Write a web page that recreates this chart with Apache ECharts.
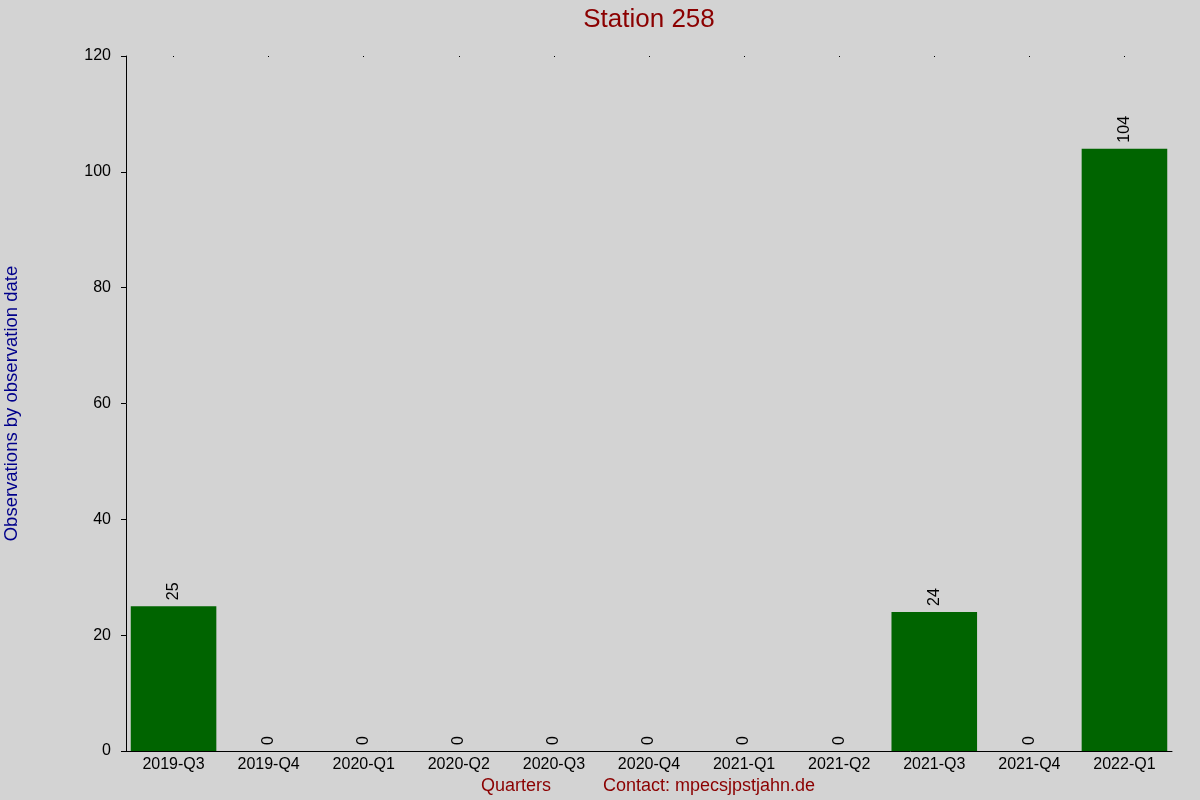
<!DOCTYPE html>
<html>
<head>
<meta charset="utf-8">
<script src="https://cdn.jsdelivr.net/npm/echarts@6/dist/echarts.min.js"></script>
<style>
  html, body { margin: 0; padding: 0; background: #d3d3d3; }
  #chart { width: 1200px; height: 800px; }
</style>
</head>
<body>
<div id="chart"></div>
<script>
// quarters and counts
const quarters = ['2019-Q3', '2019-Q4', '2020-Q1', '2020-Q2', '2020-Q3', '2020-Q4',
                  '2021-Q1', '2021-Q2', '2021-Q3', '2021-Q4', '2022-Q1'];
const counts = [25, 0, 0, 0, 0, 0, 0, 0, 24, 0, 104];
const yTicks = { min: 0, max: 120, interval: 20 };

const font = '"Liberation Sans", Arial, sans-serif';
const chart = echarts.init(document.getElementById('chart'));

const option = {
    backgroundColor: '#d3d3d3',
    animation: false,
    title: {
        text: 'Station 258',
        left: 644,
        textAlign: 'center',
        top: 2,
        textStyle: { color: '#8b0000', fontSize: 26, fontWeight: 'normal', fontFamily: font }
    },
    grid: { left: 126, right: 28, top: 56, bottom: 49, outerBoundsMode: 'none', containLabel: false },
    xAxis: [{
        type: 'category',
        data: quarters,
        axisLine: { lineStyle: { color: '#000', width: 1 } },
        axisTick: { show: false },
        axisLabel: { color: '#000', fontSize: 16, fontFamily: font, margin: 6, interval: 0 }
    }, {
        // tiny dots along the top edge
        type: 'category',
        data: quarters,
        position: 'top',
        axisLine: { show: false },
        axisTick: { show: true, alignWithLabel: true, length: 1, inside: true, lineStyle: { color: '#000' } },
        axisLabel: { show: false }
    }],
    yAxis: {
        type: 'value',
        min: yTicks.min,
        max: yTicks.max,
        interval: yTicks.interval,
        name: 'Observations by observation date',
        nameLocation: 'middle',
        nameGap: 105,
        nameTextStyle: { color: '#00008b', fontSize: 18.5, fontFamily: font },
        axisLine: { show: true, lineStyle: { color: '#000', width: 1 } },
        axisTick: { show: true, length: 5, lineStyle: { color: '#000' } },
        axisLabel: { color: '#000', fontSize: 16, fontFamily: font, margin: 15 },
        splitLine: { show: false }
    },
    series: [{
        type: 'bar',
        data: counts,
        barCategoryGap: '10%',
        itemStyle: { color: '#006400' },
        label: {
            show: true,
            position: 'top',
            rotate: 90,
            align: 'left',
            verticalAlign: 'middle',
            distance: 6,
            color: '#000',
            fontSize: 16,
            fontFamily: font
        }
    }],
    graphic: [{
        type: 'text',
        left: 481,
        top: 777,
        style: { text: 'Quarters', fill: '#8b0000', fontSize: 18, fontFamily: font }
    }, {
        type: 'text',
        left: 603,
        top: 777,
        style: { text: 'Contact: mpecsjpstjahn.de', fill: '#8b0000', fontSize: 18, fontFamily: font }
    }]
};
chart.setOption(option);
</script>
</body>
</html>
